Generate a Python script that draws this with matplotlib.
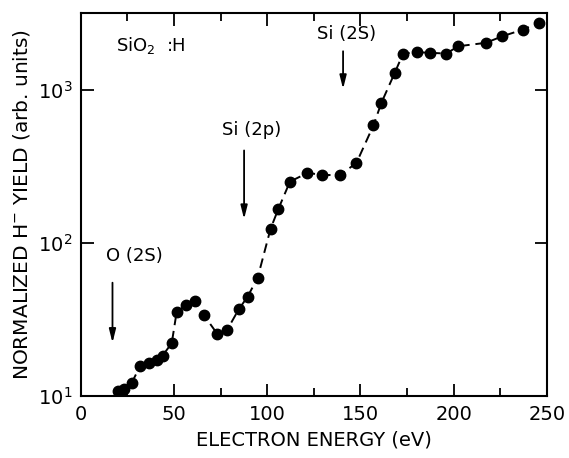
import numpy as np
import matplotlib
matplotlib.use('Agg')
import matplotlib.pyplot as plt
from matplotlib.ticker import FixedLocator, NullLocator, FixedFormatter

# ─── Data ────────────────────────────────────────────────────────────────────
energy_ev = [20.2, 23.4, 27.3, 31.8, 36.8, 40.7, 43.9, 48.8, 51.4, 56.3,
             61.3, 66.2, 73.2, 78.6, 84.7, 89.5, 94.9, 101.8, 105.9, 112.2,
             121.6, 129.5, 139.0, 147.9, 157.0, 161.3, 168.4, 172.9, 180.4,
             187.2, 196.1, 202.4, 217.3, 226.2, 237.2, 245.8]
yield_h = [10.8, 11.1, 12.2, 15.7, 16.4, 17.3, 18.4, 22.2, 35.3, 39.1,
           41.7, 33.6, 25.5, 27.2, 36.8, 44.6, 59.4, 123.6, 165.6, 251,
           286, 278, 276, 333, 585, 822, 1285, 1718, 1754,
           1740, 1718, 1918, 2020, 2230, 2465, 2730]

# edge labels: (text, x, y of text, arrow top, arrow tip)
edge_names = ['O (2S)', 'Si (2p)', 'Si (2S)']
edge_text_x = [29.0, 91.8, 142.7]
edge_text_y = [82, 548, 2322]
edge_arrow_x = [17.0, 87.6, 140.7]
edge_arrow_top = [55, 401, 1780]
edge_arrow_tip = [22.3, 143, 1010]

x_ticks = [0, 50, 100, 150, 200, 250]
x_minor = [25, 75, 125, 175, 225]
y_ticks = [10, 100, 1000]
y_tick_labels = ['10$^1$', '10$^2$', '10$^3$']

# ─── Plot ────────────────────────────────────────────────────────────────────
fig = plt.figure(figsize=(5.69, 4.58), dpi=100)
ax = fig.add_axes([0.142, 0.135, 0.819, 0.837])

ax.plot(energy_ev, yield_h, color='black', linestyle=(0, (5, 3)), linewidth=1.4,
        marker='o', markersize=7.5, markerfacecolor='black', markeredgecolor='black')

ax.set_yscale('log')
ax.set_xlim(0, 250)
ax.set_ylim(10, 3170)

ax.xaxis.set_major_locator(FixedLocator(x_ticks))
ax.xaxis.set_minor_locator(FixedLocator(x_minor))
ax.yaxis.set_major_locator(FixedLocator(y_ticks))
ax.yaxis.set_major_formatter(FixedFormatter(y_tick_labels))
ax.yaxis.set_minor_locator(NullLocator())

ax.tick_params(which='both', direction='in', top=True, right=True, width=1.3)
ax.tick_params(which='major', length=9, labelsize=14, pad=6)
ax.tick_params(which='minor', length=6)
for s in ax.spines.values():
    s.set_linewidth(1.5)

ax.set_xlabel('ELECTRON ENERGY (eV)', fontsize=14, labelpad=5)
ax.set_ylabel('NORMALIZED H$^{-}$ YIELD (arb. units)', fontsize=14.5, labelpad=4)

for name, tx, ty, axx, atop, atip in zip(edge_names, edge_text_x, edge_text_y,
                                        edge_arrow_x, edge_arrow_top, edge_arrow_tip):
    ax.text(tx, ty, name, fontsize=13, ha='center', va='center')
    ax.annotate('', xy=(axx, atip), xytext=(axx, atop),
                arrowprops=dict(arrowstyle='-|>,head_length=0.8,head_width=0.2',
                                color='black', lw=1.3,
                                mutation_scale=10, shrinkA=0, shrinkB=0))

ax.text(19, 1940, 'SiO$_2$  :H', fontsize=13, ha='left', va='center')

fig.savefig('out.png', dpi=100)
